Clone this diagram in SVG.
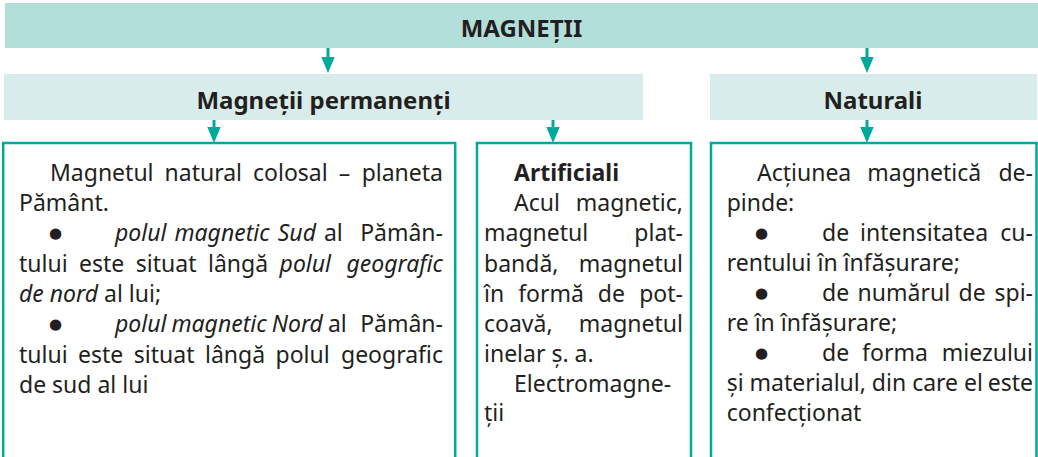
<svg xmlns="http://www.w3.org/2000/svg" width="1038" height="457" viewBox="0 0 1038 457">
<style>
.t{font-family:"Noto Sans","Open Sans",sans-serif;font-size:23px;fill:#231f20}
.h{font-family:"Noto Sans","Open Sans",sans-serif;font-size:24px;font-weight:bold;fill:#231f20;text-anchor:middle}
.bl{font-family:"DejaVu Sans",sans-serif;font-size:15px;fill:#231f20}
.i{font-style:italic}
.b{font-weight:bold}
.e{text-anchor:end}
.box{fill:#ffffff;stroke:#00a99a;stroke-width:2.5}
.c{stroke:#00a99a;stroke-width:3;fill:none}
</style>
<defs>
<marker id="ah" viewBox="0 -7 16 14" markerWidth="16" markerHeight="14" refX="0" refY="0" orient="auto" markerUnits="userSpaceOnUse">
<path d="M0,-6.7 L16,0 L0,6.7 z" fill="#00a99a"/>
</marker>
</defs>

<g id="n-magnetii">
<rect x="5" y="3" width="1033" height="45" fill="#b3dfdb"/>
<text class="h" x="521.5" y="37">MAGNEȚII</text>
</g>

<g id="n-permanenti">
<rect x="4" y="74" width="639" height="46" fill="#d8edeb"/>
<text class="h" x="323.5" y="108.5">Magneții permanenți</text>
</g>

<g id="n-naturali">
<rect x="710" y="74" width="327" height="46" fill="#d8edeb"/>
<text class="h" x="873" y="108.5">Naturali</text>
</g>

<g id="n-pamant">
<rect class="box" x="3.2" y="143" width="452" height="340"/>
<text class="t" x="50" y="181" word-spacing="5">Magnetul natural colosal –</text>
<text class="t e" x="443" y="181">planeta</text>
<text class="t" x="19" y="211">Pământ.</text>
<text class="bl" x="49" y="237.5">●</text>
<text class="t" x="115" y="241" word-spacing="2"><tspan class="i">polul magnetic Sud</tspan> al</text>
<text class="t e" x="443" y="241">Pămân-</text>
<text class="t" x="19" y="271.5" word-spacing="5.5">tului este situat lângă <tspan class="i">polul</tspan></text>
<text class="t i e" x="443" y="271.5">geografic</text>
<text class="t" x="19" y="302"><tspan class="i">de nord</tspan> al lui;</text>
<text class="bl" x="49" y="328.5">●</text>
<text class="t" x="115" y="332" word-spacing="-1"><tspan class="i">polul magnetic Nord</tspan> al</text>
<text class="t e" x="443" y="332">Pămân-</text>
<text class="t" x="19" y="362.5" word-spacing="4.5">tului este situat lângă polul</text>
<text class="t e" x="443" y="362.5">geografic</text>
<text class="t" x="19" y="392.5">de sud al lui</text>
</g>

<g id="n-artificiali">
<rect class="box" x="477" y="143" width="214" height="340"/>
<text class="t b" x="514" y="181">Artificiali</text>
<text class="t" x="514" y="211">Acul</text>
<text class="t e" x="683" y="211">magnetic,</text>
<text class="t" x="484" y="241">magnetul</text>
<text class="t e" x="683" y="241">plat-</text>
<text class="t" x="484" y="271.5">bandă,</text>
<text class="t e" x="683" y="271.5">magnetul</text>
<text class="t" x="484" y="301.5" word-spacing="8">în formă de</text>
<text class="t e" x="683" y="301.5">pot-</text>
<text class="t" x="484" y="332">coavă,</text>
<text class="t e" x="683" y="332">magnetul</text>
<text class="t" x="484" y="362">inelar ș. a.</text>
<text class="t" x="514" y="392">Electromagne-</text>
<text class="t" x="484" y="421">ții</text>
</g>

<g id="n-actiunea">
<rect class="box" x="711" y="143" width="325.5" height="340"/>
<text class="t" x="757" y="181" word-spacing="10">Acțiunea magnetică</text>
<text class="t e" x="1033" y="181">de-</text>
<text class="t" x="726.7" y="211">pinde:</text>
<text class="bl" x="755" y="237.5">●</text>
<text class="t" x="822" y="241" word-spacing="5">de intensitatea</text>
<text class="t e" x="1033" y="241">cu-</text>
<text class="t" x="726.7" y="271">rentului în înfășurare;</text>
<text class="bl" x="755" y="297.5">●</text>
<text class="t" x="822" y="301" word-spacing="2.5">de numărul de</text>
<text class="t e" x="1033" y="301">spi-</text>
<text class="t" x="726.7" y="331">re în înfășurare;</text>
<text class="bl" x="755" y="357.5">●</text>
<text class="t" x="822" y="361" word-spacing="7">de forma</text>
<text class="t e" x="1033" y="361">miezului</text>
<text class="t" x="726.7" y="391">și materialul, din care el</text>
<text class="t e" x="1033" y="391">este</text>
<text class="t" x="726.7" y="421">confecționat</text>
</g>

<g id="connectors">
<path class="c" d="M328,48 V57" marker-end="url(#ah)"/>
<path class="c" d="M867,48 V57" marker-end="url(#ah)"/>
<path class="c" d="M214,120 V127" marker-end="url(#ah)"/>
<path class="c" d="M553,120 V127" marker-end="url(#ah)"/>
<path class="c" d="M867,120 V127" marker-end="url(#ah)"/>
</g>
</svg>
